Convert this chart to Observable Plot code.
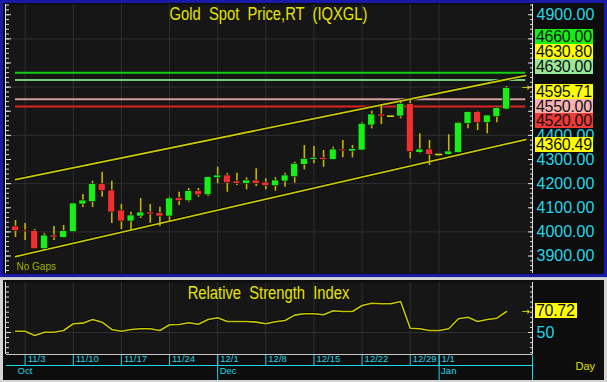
<!DOCTYPE html>
<html>
<head>
<meta charset="utf-8">
<script src="https://cdn.jsdelivr.net/npm/d3@7"></script>
<script src="https://cdn.jsdelivr.net/npm/@observablehq/plot@0.6"></script>
<style>
html,body{margin:0;padding:0;background:#c8c8c8;}
#root{position:relative;width:607px;height:382px;overflow:hidden;background:#c8c8c8;font-family:"Liberation Sans",Arial,sans-serif;}
#main{position:absolute;left:0;top:0;width:607px;height:277px;background:#1a1aa8;}
#mainInner{position:absolute;left:3px;top:3px;width:601px;height:271px;background:#0d0d0d;}
#rsi{position:absolute;left:0;top:278px;width:607px;height:104px;background:#d4d4d4;}
#rsiInner{position:absolute;left:3px;top:2px;width:601px;height:100px;background:#0d0d0d;}
.ttl{position:absolute;left:0;width:537px;text-align:center;color:#e4e400;font-size:18px;line-height:18px;white-space:pre;transform:scaleX(0.82);transform-origin:268.5px 50%;}
.tag{position:absolute;height:15px;line-height:15px;font-size:16px;color:#111;padding-left:1px;box-sizing:border-box;letter-spacing:-0.3px;white-space:pre;}
svg{display:block;}
</style>
</head>
<body>
<div id="root">
  <div id="main"><div id="mainInner"></div></div>
  <div id="rsi"><div id="rsiInner"></div></div>
</div>
<script>
// ---------- data ----------
const dates = [
  "2025-10-31",
  "2025-11-03","2025-11-04","2025-11-05","2025-11-06","2025-11-07",
  "2025-11-10","2025-11-11","2025-11-12","2025-11-13","2025-11-14",
  "2025-11-17","2025-11-18","2025-11-19","2025-11-20","2025-11-21",
  "2025-11-24","2025-11-25","2025-11-26","2025-11-27","2025-11-28",
  "2025-12-01","2025-12-02","2025-12-03","2025-12-04","2025-12-05",
  "2025-12-08","2025-12-09","2025-12-10","2025-12-11","2025-12-12",
  "2025-12-15","2025-12-16","2025-12-17","2025-12-18","2025-12-19",
  "2025-12-22","2025-12-23","2025-12-24","2025-12-25","2025-12-26",
  "2025-12-29","2025-12-30","2025-12-31","2026-01-01","2026-01-02",
  "2026-01-05","2026-01-06","2026-01-07","2026-01-08","2026-01-09",
  "2026-01-12"
];
const open = [4022.3,4005.8,4002.9,3928.3,3985.0,3975.5,3998.7,4113.5,4123.0,4197.6,
  4171.5,4088.6,4043.1,4063.8,4080.4,4077.5,4063.8,4139.6,4127.2,4168.6,
  4152.0,4222.5,4233.7,4208.8,4199.3,4213.0,4204.7,4189.4,4208.8,4226.6,
  4278.0,4298.8,4307.0,4298.8,4341.4,4333.2,4337.3,4440.9,4486.5,4479.4,
  4478.2,4530.8,4327.8,4341.4,4320.7,4319.5,4327.8,4447.9,4496.0,4452.1,
  4475.3,4507.2];
const high = [4047.2,4034.8,4009.9,3993.3,4022.3,4026.5,4118.5,4155.0,4210.1,4247.4,
  4210.1,4113.5,4081.6,4138.4,4113.5,4102.3,4143.8,4164.5,4179.8,4179.8,
  4227.5,4268.1,4242.0,4243.2,4224.2,4261.5,4220.0,4224.2,4243.2,4288.8,
  4358.0,4353.9,4337.3,4351.0,4378.7,4358.0,4452.1,4500.2,4523.8,4479.4,
  4544.5,4547.4,4406.5,4378.7,4320.7,4402.4,4454.6,4497.0,4500.2,4483.0,
  4516.7,4602.5];
const low = [3976.8,3964.3,3927.0,3922.9,3964.3,3974.5,3997.5,4101.1,4101.1,4143.8,
  4034.8,4009.9,4005.8,4055.5,4036.0,4022.3,4040.2,4109.4,4123.0,4143.8,
  4146.7,4199.3,4164.5,4192.3,4174.4,4188.1,4174.4,4168.6,4185.2,4201.8,
  4257.3,4282.2,4268.1,4298.0,4307.0,4307.0,4336.0,4427.2,4445.0,4479.4,
  4468.7,4302.9,4323.6,4275.1,4320.7,4316.6,4326.0,4427.2,4420.2,4406.5,
  4452.1,4506.0];
const close = [4002.9,4001.6,3928.3,3985.0,3976.8,4002.9,4117.7,4130.0,4197.6,4168.6,
  4080.4,4043.1,4068.0,4080.4,4072.1,4063.8,4138.4,4127.2,4168.6,4152.0,
  4226.6,4233.7,4201.8,4199.3,4213.0,4199.3,4189.4,4213.0,4233.7,4282.2,
  4302.9,4307.0,4298.8,4341.4,4334.4,4342.7,4447.9,4486.5,4478.2,4479.4,
  4530.8,4330.3,4341.4,4319.5,4320.7,4333.2,4452.1,4496.0,4452.1,4482.3,
  4512.6,4595.71];
const rsi = [51.3,51.3,47.0,50.3,50.3,52.0,58.6,59.2,62.8,60.2,
  53.0,51.3,53.0,53.7,53.7,52.0,57.6,57.9,59.6,58.2,
  62.8,64.5,60.9,60.9,60.9,60.2,58.6,60.6,61.8,67.1,
  68.5,68.5,67.5,71.4,70.7,70.7,76.6,78.9,78.3,78.3,
  80.6,54.2,53.7,52.0,52.0,53.7,63.5,65.1,60.9,62.8,
  64.1,70.72];

const tickDates = ["2025-11-03","2025-11-10","2025-11-17","2025-11-24","2025-12-01",
  "2025-12-08","2025-12-15","2025-12-22","2025-12-29","2026-01-01"];
const tickLabels = ["11/3","11/10","11/17","11/24","12/1","12/8","12/15","12/22","12/29","1/1"];
const monthDates = ["2025-10-31","2025-12-01","2026-01-01"];
const monthLabels = ["Oct","Dec","Jan"];

const levelValues = [4660, 4630, 4550, 4520];
const channelSpan = [0, 53];            // bars covered by trend/level lines
const upperChannel = [4217.1, 4648.1];
const lowerChannel = [3898.0, 4382.9];
const tagValues = [4660.00, 4630.80, 4630.00, 4595.71, 4550.00, 4520.00, 4360.49];
const priceTicks = [3900,4000,4100,4200,4300,4400,4500,4600,4700,4800,4900];
const priceGrid = [4000,4200,4400,4600,4800];
const rsiTicks = [50];
const rsiLast = 70.72;
const mainTitle = "Gold  Spot  Price,RT  (IQXGL)";
const rsiTitle = "Relative  Strength  Index";

// ---------- styles ----------
const levelColors = ["#12d012","#78c878","#d49c9c","#e22020"];
const tagColors = ["#14f014","#ffff00","#98e898","#ffff00","#f7b3b3","#f03a3a","#ffff00"];
const GRID = "#2f2f2f", CYAN = "#22d6e6", YEL = "#e0e000", CH = "#c8c800", WICK = "#c4b600";
const xDomain = [-0.935, 53.70];
const yDomain = [3827.6, 4942.4];
const rsiDomain = [28.29, 99.33];
const BODY = 0.36;
const FONT = "Liberation Sans, Arial, sans-serif";
const MAIN = {width: 601, height: 271, marginLeft: 3, marginRight: 72, marginTop: 1, marginBottom: 1, top: 3};

const at = d => dates.indexOf(d);
const bars = dates.map((d, i) => ({i, o: open[i], h: high[i], l: low[i], c: close[i]}));
const rising = bars.filter(b => b.c > b.o);
const falling = bars.filter(b => b.c < b.o);
const flat = bars.filter(b => b.c === b.o);
const tickIdx = tickDates.map(at);
const monthIdx = monthDates.map(at);
const upper = channelSpan.map((x, k) => ({x, y: upperChannel[k]}));
const lower = channelSpan.map((x, k) => ({x, y: lowerChannel[k]}));
const minorPrice = d3.range(3840, 4941, 20);
const minorRsi = d3.range(30, 100, 5);
const last = bars[bars.length - 1];

// ---------- value tags layout (stacked to avoid overlap) ----------
const yS = Plot.scale({y: {domain: yDomain, range: [MAIN.height - MAIN.marginBottom, MAIN.marginTop]}});
const H = 14.6, anchorK = tagValues.indexOf(last.c), gapAbove = 11;
const want = tagValues.map(v => yS.apply(v) + MAIN.top);
const pos = want.slice();
pos[anchorK] = want[anchorK] + 4;
for (let k = anchorK - 1; k >= 0; k--) pos[k] = Math.min(want[k], pos[k + 1] - H - (k + 1 === anchorK ? gapAbove : 0));
for (let k = anchorK + 1; k < pos.length; k++) pos[k] = Math.max(want[k], pos[k - 1] + H);
// axis labels fully hidden behind a tag are not drawn
const labelTicks = priceTicks.filter(t => !pos.some(p => Math.abs(yS.apply(t) + MAIN.top - p) < 7.5));

function tickAxes(ticksMinor, ticksMajor) {
  const o = {stroke: "#dcdcdc", fill: "none", label: null};
  return [
    Plot.axisY({...o, anchor: "right", ticks: ticksMinor, tickSize: 3, dx: -3}),
    Plot.axisY({...o, anchor: "right", ticks: ticksMajor, tickSize: 5, dx: -5}),
    Plot.axisY({...o, anchor: "left", ticks: ticksMinor, tickSize: 3, dx: 3}),
    Plot.axisY({...o, anchor: "left", ticks: ticksMajor, tickSize: 5, dx: 5})
  ];
}

// ---------- main chart ----------
const main = Plot.plot({
  width: MAIN.width, height: MAIN.height,
  marginLeft: MAIN.marginLeft, marginRight: MAIN.marginRight, marginTop: MAIN.marginTop, marginBottom: MAIN.marginBottom,
  style: {background: "transparent", color: "#fff", fontFamily: FONT, overflow: "visible"},
  x: {domain: xDomain, axis: null},
  y: {domain: yDomain, axis: null},
  marks: [
    Plot.frame({fill: "#161616"}),
    Plot.ruleY(priceGrid, {stroke: GRID}),
    Plot.ruleX(tickIdx, {stroke: GRID}),
    ...levelValues.map((v, k) => Plot.ruleY([v], {x1: () => channelSpan[0], x2: () => channelSpan[1], stroke: levelColors[k], strokeWidth: 2})),
    Plot.line(upper, {x: "x", y: "y", stroke: "#000", strokeWidth: 3.4}),
    Plot.line(upper, {x: "x", y: "y", stroke: CH, strokeWidth: 1.8}),
    Plot.line(lower, {x: "x", y: "y", stroke: "#000", strokeWidth: 3.4}),
    Plot.line(lower, {x: "x", y: "y", stroke: CH, strokeWidth: 1.8}),
    Plot.ruleX(bars.filter(b => b.h > b.l), {x: "i", y1: "l", y2: "h", stroke: WICK, strokeWidth: 1.6}),
    Plot.rect(rising, {x1: b => b.i - BODY, x2: b => b.i + BODY, y1: "o", y2: "c", fill: "#18ee18", stroke: "#0a0a0a", strokeWidth: 0.6}),
    Plot.rect(falling, {x1: b => b.i - BODY, x2: b => b.i + BODY, y1: "o", y2: "c", fill: "#f03030", stroke: "#0a0a0a", strokeWidth: 0.6}),
    Plot.ruleY(flat, {y: "c", x1: b => b.i - BODY, x2: b => b.i + BODY, stroke: "#d8d800", strokeWidth: 1.6}),
    Plot.text([last], {x: "i", y: "c", text: () => "→", dx: 15, textAnchor: "start", fill: YEL, fontSize: 10, fontFamily: "DejaVu Sans"}),
    Plot.axisY({anchor: "right", ticks: labelTicks, tickFormat: d3.format(".2f"), tickSize: 0, tickPadding: 4, fill: CYAN, fontSize: 16, label: null}),
    ...tickAxes(minorPrice, priceTicks),
    Plot.text(["No Gaps"], {frameAnchor: "bottom-left", dx: 10, dy: -4, textAnchor: "start", fill: "#9fb000", fontSize: 10})
  ]
});

// ---------- RSI chart ----------
const rsiChart = Plot.plot({
  width: 601, height: 100,
  marginLeft: 3, marginRight: 72, marginTop: 2, marginBottom: 26,
  style: {background: "transparent", color: "#fff", fontFamily: FONT, overflow: "visible"},
  x: {domain: xDomain, axis: null},
  y: {domain: rsiDomain, axis: null},
  marks: [
    Plot.frame({fill: "#161616"}),
    Plot.ruleY(rsiTicks, {stroke: GRID}),
    Plot.ruleX(tickIdx, {stroke: GRID}),
    Plot.line(rsi, {x: (d, i) => i, y: d => d, stroke: "#000", strokeWidth: 3}),
    Plot.line(rsi, {x: (d, i) => i, y: d => d, stroke: CH, strokeWidth: 1.6}),
    Plot.text([rsi.length - 1], {x: d => d, y: d => rsi[d], text: () => "→", dx: 15, textAnchor: "start", fill: YEL, fontSize: 10, fontFamily: "DejaVu Sans"}),
    Plot.axisY({anchor: "right", ticks: rsiTicks, tickFormat: d => String(d), tickSize: 0, tickPadding: 4, fill: CYAN, fontSize: 16, label: null}),
    ...tickAxes(minorRsi, rsiTicks),
    Plot.axisX({anchor: "bottom", ticks: tickIdx, tickSize: 11, stroke: CYAN, fill: "none", label: null}),
    Plot.axisX({anchor: "bottom", ticks: monthIdx.slice(1), tickSize: 26, stroke: CYAN, fill: "none", label: null}),
    Plot.text(tickIdx, {x: d => d, text: (d, k) => tickLabels[k], frameAnchor: "bottom", dy: 7.5, dx: 2.5, textAnchor: "start", fill: CYAN, fontSize: 9.5, ariaLabel: "date-labels"}),
    Plot.text(monthIdx, {x: d => d, text: (d, k) => monthLabels[k], frameAnchor: "bottom", dy: 19, dx: 2, textAnchor: "start", fill: CYAN, fontSize: 9.5, ariaLabel: "month-labels"}),
    Plot.text(["Day"], {frameAnchor: "bottom-right", dx: 43, dy: 15, textAnchor: "start", fill: YEL, fontSize: 11})
  ]
});

document.getElementById("mainInner").appendChild(main);
document.getElementById("rsiInner").appendChild(rsiChart);
d3.select(rsiChart).selectAll("g[aria-label='date-labels'] text, g[aria-label='month-labels'] text").style("letter-spacing", "-0.6px");

// frame edge lines
function edges(svg, bottomColor) {
  const xs = svg.scale("x").range, ys = svg.scale("y").range;
  const g = d3.select(svg).append("g");
  const L = (x1, y1, x2, y2, c) => g.append("line").attr("x1", x1).attr("y1", y1).attr("x2", x2).attr("y2", y2).attr("stroke", c).attr("stroke-width", 1);
  L(xs[0] - 0.5, ys[1], xs[0] - 0.5, ys[0], "#e0e0e0");
  L(xs[1] + 0.5, ys[1], xs[1] + 0.5, ys[0], "#e0e0e0");
  if (bottomColor) L(xs[0], ys[0] + 0.5, xs[1] + 0.5, ys[0] + 0.5, bottomColor);
  return {xs, ys, L};
}
edges(main);
const re = edges(rsiChart, "#c8c8c8");
re.L(re.xs[0], re.ys[0] + 11.5, re.xs[1] + 0.5, re.ys[0] + 11.5, CYAN);
re.L(re.xs[1] + 0.5, re.ys[0] + 1, re.xs[1] + 0.5, 100, CYAN);

// ---------- titles ----------
const root = document.getElementById("root");
function addTitle(text, top) {
  const d = document.createElement("div");
  d.className = "ttl"; d.textContent = text; d.style.top = top + "px";
  root.appendChild(d);
}
addTitle(mainTitle, 5);
addTitle(rsiTitle, 284);

// ---------- value tags ----------
function addTag(text, cy, left, width, bg) {
  const d = document.createElement("div");
  d.className = "tag"; d.textContent = text;
  d.style.top = (cy - 7.5) + "px"; d.style.left = left + "px"; d.style.width = width + "px"; d.style.background = bg;
  root.appendChild(d);
}
tagValues.forEach((v, k) => addTag(d3.format(".2f")(v), pos[k], 535, 58, tagColors[k]));
addTag(d3.format(".2f")(rsiLast), rsiChart.scale("y").apply(rsiLast) + 280, 535, 42, "#ffff00");
</script>
</body>
</html>
